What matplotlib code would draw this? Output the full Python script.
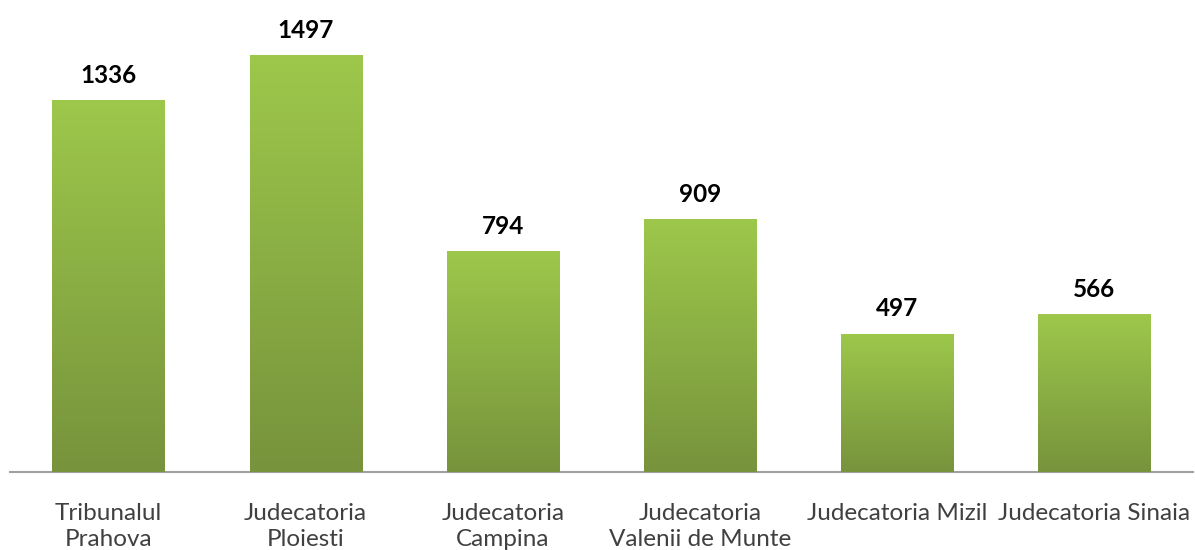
import matplotlib.pyplot as plt
import numpy as np
from matplotlib.colors import LinearSegmentedColormap

instante = ['Tribunalul\nPrahova', 'Judecatoria\nPloiesti', 'Judecatoria\nCampina',
            'Judecatoria\nValenii de Munte', 'Judecatoria Mizil', 'Judecatoria Sinaia']
valori = [1336, 1497, 794, 909, 497, 566]

plt.rcParams['font.family'] = ['Lato', 'DejaVu Sans']

fig = plt.figure(figsize=(11.95, 5.5), dpi=100)
ax = fig.add_axes([10 / 1195, 78 / 550, 1183 / 1195, 472 / 550])

x = np.arange(len(valori))
bare = ax.bar(x, valori, width=0.57, color='#8ab044', zorder=2)

# gradient vertical in fiecare bara
verde = LinearSegmentedColormap.from_list('verde', ['#77933c', '#9dc84b'])
grad = np.linspace(0, 1, 256).reshape(-1, 1)
for b in bare:
    bx, by = b.get_x(), b.get_y()
    w, h = b.get_width(), b.get_height()
    im = ax.imshow(grad, cmap=verde, origin='lower', aspect='auto',
                   extent=[bx, bx + w, by, by + h], zorder=3)
    im.set_clip_path(b)
    ax.text(bx + w / 2, h + 48, str(int(h)), ha='center', va='bottom',
            fontsize=17.5, fontweight='bold', color='black')

ax.set_xlim(-0.5, len(valori) - 0.5)
ax.set_ylim(0, 1695)
ax.set_xticks(x)
ax.set_xticklabels(instante, fontsize=17.5, color='#404040', linespacing=1.3)
ax.tick_params(axis='x', length=0, pad=22)
ax.set_yticks([])
for s in ['top', 'right', 'left']:
    ax.spines[s].set_visible(False)
ax.spines['bottom'].set_color('#a0a0a0')
ax.spines['bottom'].set_linewidth(1.5)

fig.savefig('out.png', dpi=100)
